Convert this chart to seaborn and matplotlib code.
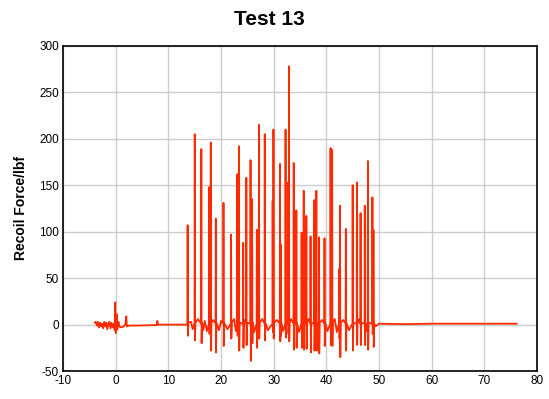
import numpy as np
import pandas as pd
import matplotlib
matplotlib.use("Agg")
import matplotlib.pyplot as plt
import seaborn as sns

# Picos de recuo (tempo, pico, vale)
spike_time = [13.65, 15.0, 16.25, 17.75, 18.05, 19.0, 20.46, 21.9, 23.1, 23.4,
              24.2, 24.8, 25.6, 25.9, 26.8, 27.2, 28.3, 29.8, 29.95, 31.2,
              31.35, 32.25, 32.75, 32.9, 33.8, 34.3, 35.3, 35.7, 36.2, 37.0,
              37.7, 38.1, 38.6, 39.65, 40.8, 41.1, 42.45, 42.6, 43.7, 45.0,
              45.8, 46.5, 47.3, 47.9, 48.75, 48.95]
spike_peak = [107, 205, 189, 148, 196, 114, 131, 97, 162, 192,
              88, 158, 177, 135, 102, 215, 205, 133, 210, 173,
              86, 210, 153, 278, 174, 123, 99, 144, 117, 95,
              134, 144, 94, 93, 190, 188, 60, 128, 103, 150,
              153, 120, 128, 176, 137, 102]
spike_dip = [-12, -17, -20, -10, -28, -30, -23, -15, -12, -28,
             -25, -22, -39, -20, -25, -15, -17, -8, -15, -18,
             -12, -14, -10, -18, -27, -25, -25, -27, -26, -30,
             -28, -28, -31, -23, -22, -23, -15, -35, -28, -28,
             -22, -22, -22, -27, -10, -24]

# Ruído de linha de base (antes do disparo, entre picos e cauda)
base_time = [-4.0, -3.8, -3.6, -3.4, -3.2, -3.0, -2.8, -2.6, -2.4, -2.2,
             -2.0, -1.8, -1.6, -1.4, -1.2, -1.0, -0.8, -0.6, -0.4, -0.2,
             -0.1, 0.0, 0.1, 0.2, 0.3, 0.5, 0.7, 1.0, 1.5, 1.8,
             2.0, 2.1, 2.5, 4.0, 7.8, 7.9, 8.0, 10.0, 13.4,
             14.3, 14.6, 15.6, 16.6, 16.9, 17.3, 18.5, 19.6, 20.0, 21.2,
             22.5, 22.8, 24.5, 26.3, 27.8, 28.9, 30.6, 31.8, 33.3, 34.8,
             36.6, 39.2, 40.2, 41.6, 42.0, 43.2, 44.3, 46.2, 47.6, 49.3,
             50.0, 55.0, 60.0, 65.0, 70.0, 76.2]
base_force = [2, 3, -1, 3, -3, 2, -2, 1, -4, 3,
              -2, 2, -5, 1, 3, -4, 2, -3, 1, -6,
              24, -9, 5, 11, -5, 3, -2, -3, -2, 0,
              9, -2, -1, -1, -0.5, 4, 0, 0, 0,
              3, -5, 6, -6, 4, -7, 5, -6, 4, -5,
              6, -7, 5, -8, 6, -6, 5, -7, 6, -8,
              6, 5, -7, 6, -8, 5, -6, 6, -7, -2,
              1, 0.5, 1, 1, 1, 1]


def build_trace():
    """Monta o traço a partir dos picos lidos e do ruído de base."""
    t, f = list(base_time), list(base_force)
    for ts, pk, dp in zip(spike_time, spike_peak, spike_dip):
        t += [ts - 0.04, ts, ts + 0.05, ts + 0.12]
        f += [1, pk, dp, 2]
    df = pd.DataFrame({"time": t, "force": f}).sort_values("time")
    return df


sns.set_theme(style="whitegrid")
plt.rcParams["font.family"] = ["Liberation Sans", "DejaVu Sans"]
plt.rcParams["axes.unicode_minus"] = False
plt.rcParams["text.color"] = "black"

df = build_trace()

fig = plt.figure(figsize=(5.49, 3.99), dpi=100)
ax = fig.add_axes([0.115, 0.070, 0.863, 0.815])
sns.lineplot(data=df, x="time", y="force", ax=ax, estimator=None, sort=False,
             color="#ff2a00", linewidth=1.3)

ax.set_xlim(-10, 80)
ax.set_ylim(-50, 300)
ax.set_xticks(np.arange(-10, 81, 10))
ax.set_yticks(np.arange(-50, 301, 50))
ax.tick_params(axis="both", labelsize=8.5, length=0, pad=3, colors="black")
ax.grid(True, color="#cccccc", linewidth=1)
for s in ax.spines.values():
    s.set_visible(True)
    s.set_color("black")
    s.set_linewidth(1.2)
ax.set_xlabel("")
ax.set_ylabel("Recoil Force/lbf", fontsize=10, fontweight="bold", labelpad=8,
              color="black")
fig.suptitle("Test 13", fontsize=15, fontweight="bold", y=0.975, x=0.49,
             color="black")

fig.savefig("out.png", dpi=100, facecolor="white")
